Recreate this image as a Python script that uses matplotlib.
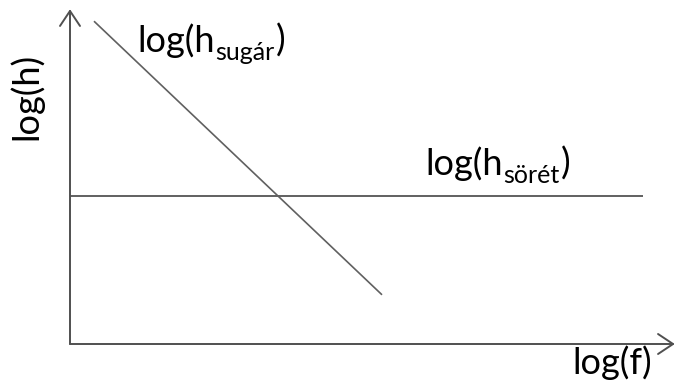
import matplotlib
matplotlib.use("Agg")
import matplotlib.pyplot as plt

plt.rcParams['font.family'] = ['Lato', 'DejaVu Sans']

# Schematic noise levels on log-log axes (arbitrary units)
f_jet = [0.40, 5.20]          # log(f) range of the jet-noise line
h_jet = [5.38, 0.82]          # log(h) of the jet noise (falling with f)
f_shot = [0.00, 9.55]         # log(f) range of the shot-noise line
h_shot = [2.47, 2.47]         # log(h) of the shot noise (flat)

x_axis_end = 10.08
y_axis_end = 5.58

label_x = 'log(f)'
label_y = 'log(h)'
sub_jet = 'sugár'
sub_shot = 'sörét'

fig = plt.figure(figsize=(6.76, 3.85), dpi=100)
ax = fig.add_axes([0, 0, 1, 1])
ax.set_xlim(-70 / 60, (676 - 70) / 60)
ax.set_ylim(-(385 - 344) / 60, 344 / 60)
ax.axis('off')

axis_color = '#505050'
line_color = '#606060'

# axes with open arrowheads
arrow = dict(arrowstyle='->,head_length=1.08,head_width=0.72', color=axis_color,
             lw=1.4, mutation_scale=10, shrinkA=0, shrinkB=0)
ax.annotate('', xy=(x_axis_end, 0), xytext=(0, 0), arrowprops=arrow)
ax.annotate('', xy=(0, y_axis_end), xytext=(0, 0), arrowprops=arrow)

ax.plot(f_shot, h_shot, color=line_color, lw=1.4, solid_capstyle='butt')
ax.plot(f_jet, h_jet, color=line_color, lw=1.2, solid_capstyle='butt')

fs = 26
fs_sub = 18
renderer = fig.canvas.get_renderer()
px2pt = 72 / fig.dpi


def label_with_sub(x, y, sub):
    """Draw 'log(h_sub)' with a lowered, smaller subscript."""
    main = ax.text(x, y, 'log(h', fontsize=fs, ha='left', va='baseline')
    w_main = main.get_window_extent(renderer).width * px2pt
    s = ax.annotate(sub, xy=(x, y), xytext=(w_main + 0.5, -6),
                    textcoords='offset points', fontsize=fs_sub,
                    ha='left', va='baseline')
    w_sub = s.get_window_extent(renderer).width * px2pt
    ax.annotate(')', xy=(x, y), xytext=(w_main + w_sub + 1.0, 0),
                textcoords='offset points', fontsize=fs,
                ha='left', va='baseline')


label_with_sub(1.12, 4.87, sub_jet)
label_with_sub(5.92, 2.82, sub_shot)
ax.text(8.38, -0.50, label_x, fontsize=fs, ha='left', va='baseline')
ax.text(-0.73, 4.12, label_y, fontsize=fs, ha='center', va='center', rotation=90)

fig.savefig('out.png', dpi=100)
